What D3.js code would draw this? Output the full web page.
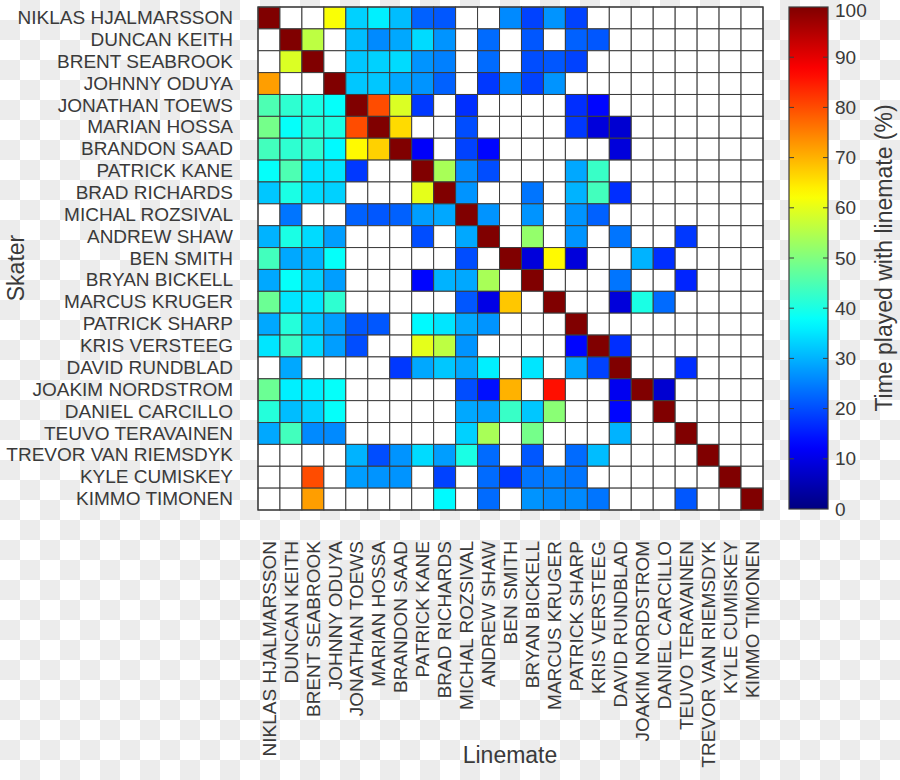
<!DOCTYPE html>
<html>
<head>
<meta charset="utf-8">
<script src="https://cdn.jsdelivr.net/npm/d3@7/dist/d3.min.js"></script>
<style>
  html, body { margin: 0; padding: 0; background: #fff; }
  svg { display: block; }
  text { font-family: "Liberation Sans", Arial, Helvetica, sans-serif; fill: #3a3a3a; }
</style>
</head>
<body>
<svg id="chart" width="900" height="780"></svg>
<script>
// ---------------- data ----------------
const players = [
  "NIKLAS HJALMARSSON", "DUNCAN KEITH", "BRENT SEABROOK", "JOHNNY ODUYA",
  "JONATHAN TOEWS", "MARIAN HOSSA", "BRANDON SAAD", "PATRICK KANE",
  "BRAD RICHARDS", "MICHAL ROZSIVAL", "ANDREW SHAW", "BEN SMITH",
  "BRYAN BICKELL", "MARCUS KRUGER", "PATRICK SHARP", "KRIS VERSTEEG",
  "DAVID RUNDBLAD", "JOAKIM NORDSTROM", "DANIEL CARCILLO", "TEUVO TERAVAINEN",
  "TREVOR VAN RIEMSDYK", "KYLE CUMISKEY", "KIMMO TIMONEN"
];

// Time played with linemate (%), rows = skater, columns = linemate; null = no time together
const n = null;
const timeShare = [
  [100,n,n,62,33,36,31,22, 21,n,n,26,19,27,19,n, n,n,n,n,n,n,n],
  [n,100,56,n,31,26,29,34, 27,n,23,n,21,n,22,21, n,n,n,n,n,n,n],
  [n,59,100,n,32,33,34,27, 25,n,23,n,20,21,19,n, n,n,n,n,n,n,n],
  [72,n,n,100,32,32,29,27, 22,n,18,26,19,27,n,n, n,n,n,n,n,n,n],
  [45,42,40,38,100,80,59,18, n,17,n,n,n,n,17,13, n,n,n,n,n,n,n],
  [49,38,41,40,80,100,66,n, n,20,n,n,n,n,18,9, 8,n,n,n,n,n,n],
  [44,42,42,37,63,67,100,12, n,19,13,n,n,n,n,n, 9,n,n,n,n,n,n],
  [38,45,35,35,18,n,n,100, 54,26,20,n,n,n,29,43, n,n,n,n,n,n,n],
  [32,40,34,33,n,n,n,60, 100,27,n,n,24,n,30,44, 17,n,n,n,n,n,n],
  [n,24,n,n,22,21,22,28, 29,100,27,n,27,n,27,22, n,n,n,n,n,n,n],
  [30,40,34,28,n,n,n,20, n,29,100,n,52,n,27,n, 24,n,n,18,n,n,n],
  [44,29,30,38,n,n,n,n, n,20,n,100,9,63,9,n, n,30,17,n,n,n,n],
  [29,38,33,28,n,n,n,13, 30,29,54,n,100,n,n,n, 24,n,n,16,n,n,n],
  [48,35,35,42,n,n,n,n, n,21,10,68,n,100,n,n, 9,40,23,n,n,n,n],
  [29,41,32,28,21,21,n,37, 35,29,27,n,n,n,100,n, n,n,n,n,n,n,n],
  [35,43,34,28,20,n,n,60, 56,27,n,n,n,n,13,100, 17,n,n,n,n,n,n],
  [n,29,n,n,n,n,18,29, 32,29,36,n,35,n,29,19, 100,n,n,17,n,n,n],
  [48,36,36,38,n,n,n,n, n,20,14,70,n,86,n,n, 11,100,8,n,n,n,n],
  [41,31,33,38,n,n,n,n, n,29,28,43,32,51,n,n, 13,n,100,n,n,n,n],
  [29,44,26,26,n,n,n,n, n,33,54,n,49,n,n,n, 30,n,n,100,n,n,n],
  [n,n,n,n,30,20,27,34, 28,40,23,n,21,n,23,31, n,n,n,n,100,n,n],
  [n,n,80,n,28,27,27,n, 19,n,23,18,24,25,24,n, n,n,n,n,n,100,n],
  [n,n,72,n,n,n,n,n, 37,n,23,n,27,26,26,24, n,n,n,21,n,n,100]
];

const colorbarTicks = [0, 10, 20, 30, 40, 50, 60, 70, 80, 90, 100];
const xTitle = "Linemate";
const yTitle = "Skater";
const colorbarTitle = "Time played with linemate (%)";

// ---------------- drawing ----------------
const svg = d3.select("#chart");

// transparent-style checkerboard background
const defs = svg.append("defs");
const pat = defs.append("pattern").attr("id", "checker")
  .attr("width", 40).attr("height", 40).attr("patternUnits", "userSpaceOnUse");
pat.append("rect").attr("width", 40).attr("height", 40).attr("fill", "#ffffff");
pat.append("rect").attr("x", 20).attr("y", 0).attr("width", 20).attr("height", 20).attr("fill", "#ececec");
pat.append("rect").attr("x", 0).attr("y", 20).attr("width", 20).attr("height", 20).attr("fill", "#ececec");
svg.append("rect").attr("width", 900).attr("height", 780).attr("fill", "url(#checker)");

const plot = { left: 258, right: 763, top: 7, bottom: 510 };

const x = d3.scaleBand().domain(d3.range(players.length)).range([plot.left, plot.right]).padding(0);
const y = d3.scaleBand().domain(d3.range(players.length)).range([plot.top, plot.bottom]).padding(0);

function jet(t) {
  const c = v => Math.max(0, Math.min(1, v));
  const r = c(1.5 - Math.abs(4 * t - 3));
  const g = c(1.5 - Math.abs(4 * t - 2));
  const b = c(1.5 - Math.abs(4 * t - 1));
  return d3.rgb(r * 255, g * 255, b * 255).formatHex();
}
const color = d3.scaleSequential(jet).domain([0, 100]);

const cells = [];
timeShare.forEach((row, i) => row.forEach((v, j) => cells.push({ i, j, v })));

svg.append("g").selectAll("rect")
  .data(cells)
  .join("rect")
  .attr("x", d => x(d.j))
  .attr("y", d => y(d.i))
  .attr("width", x.bandwidth())
  .attr("height", y.bandwidth())
  .attr("fill", d => d.v == null ? "#ffffff" : color(d.v))
  .attr("stroke", "#3c3c3c")
  .attr("stroke-width", 1);

svg.append("rect")
  .attr("x", plot.left).attr("y", plot.top)
  .attr("width", plot.right - plot.left).attr("height", plot.bottom - plot.top)
  .attr("fill", "none").attr("stroke", "#3c3c3c").attr("stroke-width", 1.2);

// y-axis labels
const yAxis = d3.axisLeft(y).tickFormat(i => players[i]).tickSize(0).tickPadding(25);
const gy = svg.append("g").attr("transform", `translate(${plot.left},0)`).call(yAxis);
gy.select(".domain").remove();
gy.selectAll("text").attr("font-size", 19).attr("fill", "#3a3a3a")
  .style("font-family", '"Liberation Sans", Arial, sans-serif');

// x-axis labels (rotated)
const xAxis = d3.axisBottom(x).tickFormat(i => players[i]).tickSize(0).tickPadding(0);
const gx = svg.append("g").attr("transform", `translate(0,${plot.bottom})`).call(xAxis);
gx.select(".domain").remove();
gx.selectAll("text")
  .attr("font-size", 19).attr("fill", "#3a3a3a")
  .style("font-family", '"Liberation Sans", Arial, sans-serif')
  .attr("text-anchor", "end")
  .attr("transform", "rotate(-90)")
  .attr("x", -31).attr("y", 0).attr("dy", "0.35em");

// axis titles
svg.append("text").attr("x", 510).attr("y", 763).attr("text-anchor", "middle")
  .attr("font-size", 23).text(xTitle);
svg.append("text").attr("transform", "translate(24,268) rotate(-90)")
  .attr("text-anchor", "middle").attr("font-size", 23).text(yTitle);

// colorbar
const cb = { left: 789, right: 828, top: 7, bottom: 509 };
const cScale = d3.scaleLinear().domain([0, 100]).range([cb.bottom, cb.top]);
const grad = defs.append("linearGradient").attr("id", "jetgrad")
  .attr("x1", 0).attr("y1", 1).attr("x2", 0).attr("y2", 0);
d3.range(0, 101, 2).forEach(v => {
  grad.append("stop").attr("offset", v / 100).attr("stop-color", color(v));
});
svg.append("rect")
  .attr("x", cb.left).attr("y", cb.top)
  .attr("width", cb.right - cb.left).attr("height", cb.bottom - cb.top)
  .attr("fill", "url(#jetgrad)")
  .attr("stroke", "#3c3c3c").attr("stroke-width", 1.2);

const cAxis = d3.axisRight(cScale).tickValues(colorbarTicks).tickSize(0).tickPadding(7);
const gc = svg.append("g").attr("transform", `translate(${cb.right},0)`).call(cAxis);
gc.select(".domain").remove();
gc.selectAll("text").attr("font-size", 19).attr("fill", "#3a3a3a")
  .style("font-family", '"Liberation Sans", Arial, sans-serif');
// keep the top label fully inside the picture
gc.selectAll(".tick").filter(d => d === 100).select("text").attr("dy", "0.48em");

// inner tick marks on both sides of the colorbar
const tickG = svg.append("g");
colorbarTicks.filter(t => t > 0 && t < 100).forEach(t => {
  tickG.append("line").attr("x1", cb.left).attr("x2", cb.left + 5)
    .attr("y1", cScale(t)).attr("y2", cScale(t)).attr("stroke", "#3c3c3c");
  tickG.append("line").attr("x1", cb.right - 5).attr("x2", cb.right)
    .attr("y1", cScale(t)).attr("y2", cScale(t)).attr("stroke", "#3c3c3c");
});

svg.append("text").attr("transform", `translate(892,${(cb.top + cb.bottom) / 2}) rotate(-90)`)
  .attr("text-anchor", "middle").attr("font-size", 23).text(colorbarTitle);
</script>
</body>
</html>
